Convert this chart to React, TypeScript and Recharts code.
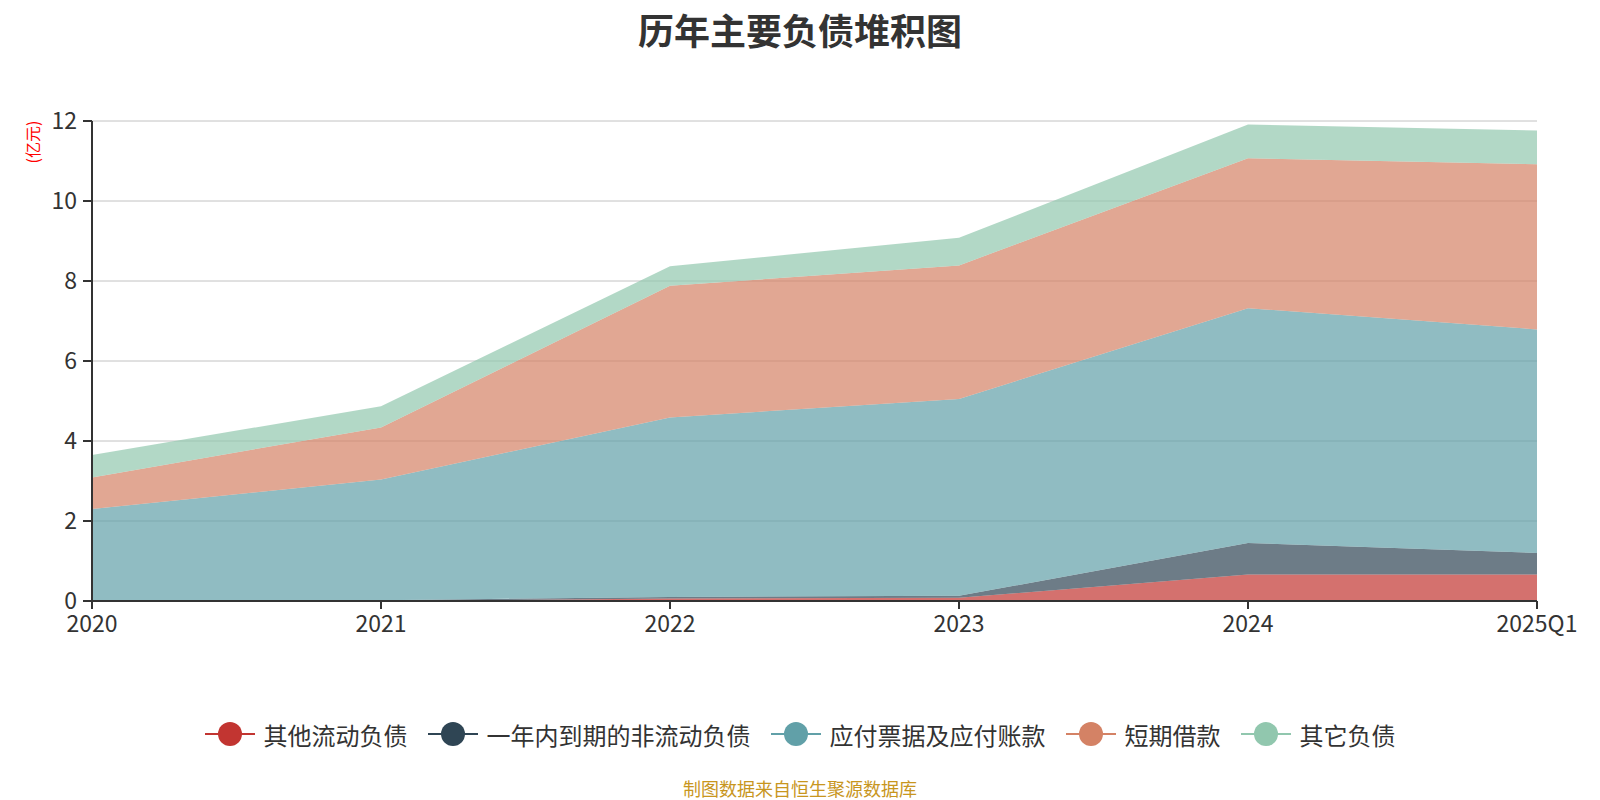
import React from 'react';
import { AreaChart, Area, XAxis, YAxis, CartesianGrid } from 'recharts';

const years = ['2020', '2021', '2022', '2023', '2024', '2025Q1'];

// 亿元
const otherCurrent = [0, 0, 0.06, 0.08, 0.66, 0.66];
const dueWithinYear = [0.02, 0.02, 0.04, 0.05, 0.79, 0.54];
const payables = [2.28, 3.02, 4.49, 4.92, 5.87, 5.59];
const shortLoans = [0.79, 1.3, 3.29, 3.34, 3.75, 4.13];
const otherLiab = [0.56, 0.53, 0.49, 0.69, 0.84, 0.84];

const yTicks = [0, 2, 4, 6, 8, 10, 12];

const series = [
  { key: 'a', name: '其他流动负债', color: '#c23531', values: otherCurrent },
  { key: 'b', name: '一年内到期的非流动负债', color: '#2f4554', values: dueWithinYear },
  { key: 'c', name: '应付票据及应付账款', color: '#61a0a8', values: payables },
  { key: 'd', name: '短期借款', color: '#d48265', values: shortLoans },
  { key: 'e', name: '其它负债', color: '#91c7ae', values: otherLiab },
];

const data = years.map((year, i) => {
  const row: Record<string, string | number> = { year };
  series.forEach((s) => {
    row[s.key] = s.values[i];
  });
  return row;
});

const font = '"Microsoft YaHei", "Noto Sans CJK SC", sans-serif';

const App: React.FC = () => {
  return (
    <div style={{ position: 'absolute', left: 0, top: 0, width: 1600, height: 800, fontFamily: font, background: '#fff' }}>
      <div style={{ position: 'absolute', top: 3, width: 1600, textAlign: 'center', fontSize: 36, fontWeight: 'bold', color: '#333' }}>
        历年主要负债堆积图
      </div>
      <div
        style={{
          position: 'absolute',
          left: 32,
          top: 142,
          transform: 'translate(-50%, -50%) rotate(-90deg)',
          color: '#ff0000',
          fontSize: 16,
          whiteSpace: 'nowrap',
        }}
      >
        (亿元)
      </div>
      <AreaChart
        width={1600}
        height={800}
        data={data}
        margin={{ top: 121, right: 63, bottom: 159, left: 32 }}
      >
        <CartesianGrid vertical={false} stroke="#c2c2c2" />
        <XAxis
          dataKey="year"
          height={40}
          tick={{ fontSize: 23, fill: '#333', fontFamily: font }}
          tickSize={8}
          tickMargin={7}
          axisLine={{ stroke: '#333', strokeWidth: 2 }}
          tickLine={{ stroke: '#333', strokeWidth: 2 }}
          interval={0}
        />
        <YAxis
          domain={[0, 12]}
          ticks={yTicks}
          width={60}
          tickSize={9}
          tickMargin={6}
          tick={{ fontSize: 23, fill: '#333', fontFamily: font }}
          axisLine={{ stroke: '#333', strokeWidth: 2 }}
          tickLine={{ stroke: '#333', strokeWidth: 2 }}
        />
        {series.map((s) => (
          <Area
            key={s.key}
            type="linear"
            dataKey={s.key}
            name={s.name}
            stackId="1"
            stroke="none"
            fill={s.color}
            fillOpacity={0.7}
            isAnimationActive={false}
          />
        ))}
      </AreaChart>
      <div
        style={{
          position: 'absolute',
          top: 717,
          width: 1600,
          height: 34,
          display: 'flex',
          justifyContent: 'center',
          alignItems: 'center',
          gap: 20,
          fontSize: 24,
          color: '#333',
        }}
      >
        {series.map((s) => (
          <div key={s.key} style={{ display: 'flex', alignItems: 'center' }}>
            <svg width={50} height={30} style={{ marginRight: 9 }}>
              <line x1={0} y1={15} x2={50} y2={15} stroke={s.color} strokeWidth={2} />
              <circle cx={25} cy={15} r={12} fill={s.color} />
            </svg>
            <span>{s.name}</span>
          </div>
        ))}
      </div>
      <div style={{ position: 'absolute', top: 775, width: 1600, textAlign: 'center', fontSize: 18, color: '#c8961e' }}>
        制图数据来自恒生聚源数据库
      </div>
    </div>
  );
};

export default App;
